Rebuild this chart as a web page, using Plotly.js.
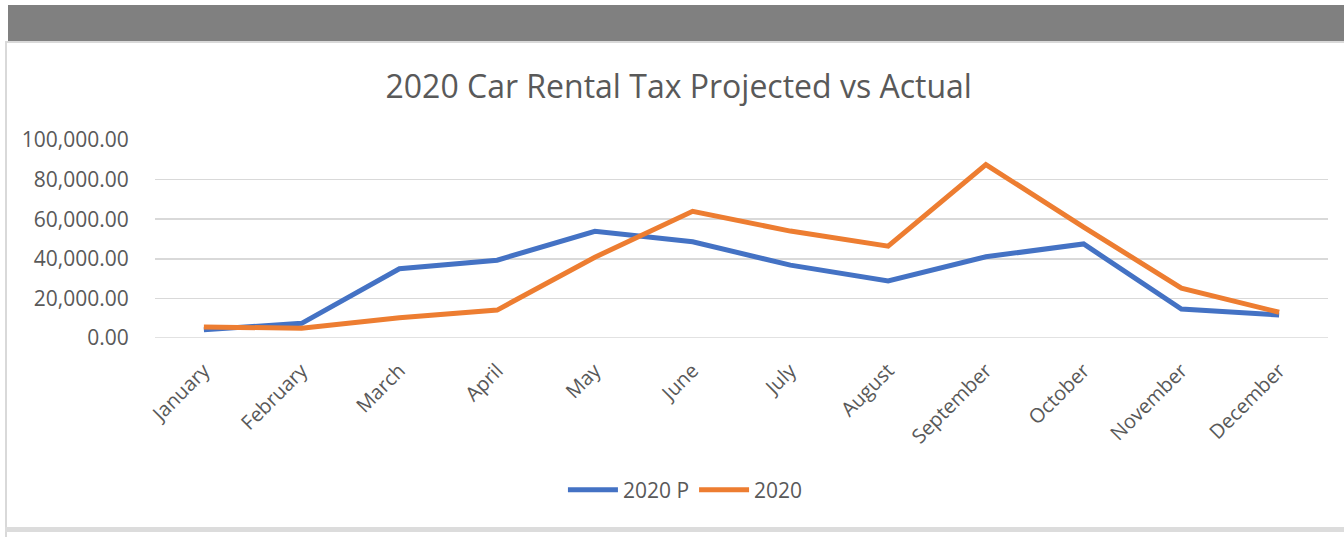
<!DOCTYPE html>
<html>
<head>
<meta charset="utf-8">
<script src="https://cdn.plot.ly/plotly-3.0.1.min.js"></script>
<style>
  html, body { margin: 0; padding: 0; background: #ffffff; }
  #wrap { position: relative; width: 1344px; height: 537px; overflow: hidden; }
  #chart { position: absolute; left: 0; top: 0; width: 1344px; height: 537px; }
  .deco { position: absolute; }
</style>
</head>
<body>
<div id="wrap">
  <div class="deco" style="left:8px; top:5px; width:1336px; height:36px; background:#808080;"></div>
  <div class="deco" style="left:5px; top:41px; width:1339px; height:2px; background:#d9d9d9;"></div>
  <div class="deco" style="left:5px; top:41px; width:2px; height:496px; background:#d9d9d9;"></div>
  <div class="deco" style="left:5px; top:527px; width:1339px; height:5px; background:#dcdcdc;"></div>
  <div id="chart"></div>
</div>
<script>
const months = ["January","February","March","April","May","June","July","August","September","October","November","December"];
const projected2020 = [4200, 7400, 35000, 39300, 53900, 48600, 36800, 28800, 41000, 47500, 14600, 11600];
const actual2020 = [5600, 4900, 10200, 14100, 40800, 64000, 54000, 46400, 87600, 56000, 25200, 13000];
const yTicks = [0, 20000, 40000, 60000, 80000, 100000];
const yTickText = ["0.00", "20,000.00", "40,000.00", "60,000.00", "80,000.00", "100,000.00"];

const fontFam = '"Open Sans", "Noto Sans", sans-serif';
const txtColor = '#595959';

const traces = [
  { x: months, y: projected2020, name: '2020 P', type: 'scatter', mode: 'lines',
    line: { color: '#4472C4', width: 5 } },
  { x: months, y: actual2020, name: '2020', type: 'scatter', mode: 'lines',
    line: { color: '#ED7D31', width: 5 } }
];

const layout = {
  width: 1344, height: 537,
  paper_bgcolor: 'rgba(0,0,0,0)',
  plot_bgcolor: 'rgba(0,0,0,0)',
  margin: { l: 155, r: 16, t: 140, b: 199, pad: 0, autoexpand: false },
  font: { family: fontFam, color: txtColor },
  title: { text: '2020 Car Rental Tax Projected vs Actual',
    font: { family: fontFam, size: 32, color: txtColor },
    x: 0.505, xref: 'container', xanchor: 'center',
    y: 0.838, yref: 'container', yanchor: 'middle' },
  xaxis: {
    type: 'category', range: [-0.5, 11.5], automargin: false,
    showgrid: false, zeroline: false, showline: false,
    tickangle: -45, ticks: 'outside', ticklen: 12, tickcolor: 'rgba(0,0,0,0)',
    tickfont: { family: fontFam, size: 20, color: txtColor },
    fixedrange: true
  },
  yaxis: {
    range: [0, 100000], tickvals: yTicks, ticktext: yTickText, automargin: false,
    showgrid: true, gridcolor: '#d9d9d9', gridwidth: 1.5,
    zeroline: false, showline: false,
    ticks: 'outside', ticklen: 21, tickcolor: 'rgba(0,0,0,0)',
    tickfont: { family: fontFam, size: 21, color: txtColor },
    fixedrange: true
  },
  showlegend: true,
  legend: {
    orientation: 'h', xref: 'container', x: 0.51, xanchor: 'center',
    yref: 'container', y: 0.0875, yanchor: 'middle',
    font: { family: fontFam, size: 21, color: txtColor },
    itemwidth: 50, bgcolor: 'rgba(0,0,0,0)', traceorder: 'normal'
  },
  shapes: [
    { type: 'line', xref: 'paper', yref: 'y', x0: 0, x1: 1, y0: 0, y1: 0,
      line: { color: '#d9d9d9', width: 1.5 }, layer: 'below' }
  ]
};

Plotly.newPlot('chart', traces, layout, { displayModeBar: false, staticPlot: true });
</script>
</body>
</html>
